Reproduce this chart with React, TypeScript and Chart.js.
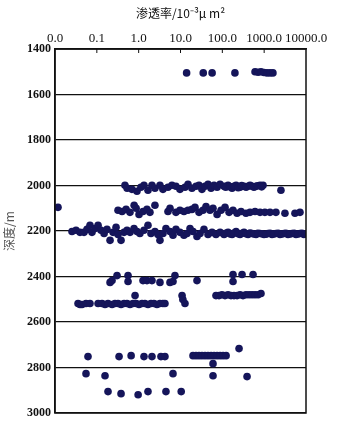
import React, { useEffect, useRef } from "react";
import { Chart, registerables } from "chart.js";

Chart.register(...registerables);

const xTickValues = [0.01, 0.1, 1, 10, 100, 1000, 10000];
const xTickLabels = ["0.0", "0.1", "1.0", "10.0", "100.0", "1000.0", "10000.0"];
const yTickValues = [1400, 1600, 1800, 2000, 2200, 2400, 2600, 2800, 3000];

const xTitle = "渗透率/10⁻³μ m²";
const yTitle = "深度/m";

const perm1500 = [14, 35, 57, 200, 605, 715, 840, 990, 1170, 1380, 1620];
const depth1500 = [1505, 1505, 1505, 1505, 1500, 1502, 1500, 1503, 1505, 1505, 1505];

const perm2000 = [0.47, 0.53, 0.69, 0.91, 1.13, 1.34, 1.67, 2.08, 2.45, 3.23, 3.81, 5.02, 6.25, 7.79, 9.7, 12.8, 15.1, 18.8, 23.5, 27.7, 32.6, 38.5, 45.5, 53.7, 63.4, 74.9, 88.3, 110, 137, 171, 213, 265, 330, 412, 513, 639, 797, 940, 2520, 120, 150, 190, 240, 290, 370, 460, 570, 700, 870];
const depth2000 = [1999, 2012, 2017, 2025, 2008, 1999, 2021, 1999, 2012, 1999, 2017, 2008, 1999, 2003, 2017, 2008, 1995, 2012, 2003, 1999, 2017, 2003, 1995, 2012, 1999, 2008, 1995, 2003, 1999, 2012, 1999, 2008, 2003, 2003, 2003, 2003, 1999, 1999, 2021, 2008, 2005, 2003, 2010, 2000, 2008, 1999, 2008, 2001, 2006];

const perm2100 = [0.0118, 0.321, 0.40, 0.50, 0.62, 0.78, 0.87, 1.02, 1.27, 1.58, 1.86, 2.45, 5.02, 5.61, 7.79, 9.7, 12.1, 15.1, 18.8, 22.2, 27.7, 34.5, 40.7, 50.8, 59.9, 74.9, 93.2, 116, 145, 180, 225, 280, 368, 459, 605, 797, 1040, 1380, 1910, 3140, 5450, 7180];
const depth2100 = [2096, 2109, 2114, 2105, 2118, 2087, 2100, 2127, 2114, 2105, 2118, 2087, 2114, 2100, 2118, 2109, 2114, 2109, 2105, 2096, 2118, 2109, 2092, 2109, 2100, 2127, 2109, 2096, 2118, 2109, 2122, 2114, 2122, 2118, 2114, 2118, 2118, 2118, 2118, 2122, 2122, 2118];

const perm2200 = [0.0255, 0.0318, 0.0396, 0.0494, 0.0582, 0.0686, 0.0766, 0.0904, 0.107, 0.126, 0.149, 0.175, 0.207, 0.244, 0.288, 0.321, 0.379, 0.447, 0.527, 0.622, 0.774, 0.913, 1.07, 1.34, 1.67, 1.97, 2.45, 2.89, 3.23, 3.81, 4.49, 5.61, 6.62, 7.79, 9.7, 12.1, 14.3, 16.9, 19.9, 24.8, 29.3, 36.4, 45.5, 56.7, 70.5, 88.3, 110, 137, 171, 213, 265, 330, 412, 513, 639, 797, 990, 1230, 1540, 1910, 2390, 2980, 3710, 4620, 5760, 7180, 8930, 120, 155, 190, 240, 300, 370, 460, 570, 710, 890, 1100, 1380, 1700, 2150, 2650, 3300, 4150, 5200, 6400, 8000, 9600];
const depth2200 = [2202, 2197, 2206, 2206, 2193, 2175, 2206, 2189, 2175, 2197, 2211, 2193, 2241, 2206, 2184, 2215, 2241, 2206, 2197, 2206, 2189, 2202, 2211, 2197, 2175, 2211, 2202, 2215, 2241, 2211, 2189, 2202, 2219, 2193, 2206, 2219, 2211, 2189, 2202, 2224, 2211, 2193, 2215, 2206, 2215, 2206, 2215, 2206, 2215, 2202, 2215, 2206, 2215, 2211, 2215, 2211, 2215, 2211, 2215, 2211, 2215, 2211, 2215, 2211, 2215, 2211, 2215, 2210, 2213, 2209, 2212, 2210, 2212, 2209, 2213, 2210, 2212, 2214, 2210, 2213, 2210, 2213, 2210, 2213, 2210, 2213, 2210, 2212];

const perm2400 = [0.207, 0.231, 0.304, 0.557, 0.557, 1.27, 1.58, 2.08, 3.23, 5.61, 6.62, 7.37, 24.8, 180, 180, 296, 542];
const depth2400 = [2426, 2418, 2396, 2396, 2422, 2418, 2418, 2418, 2426, 2426, 2422, 2396, 2418, 2391, 2422, 2391, 2391];

const perm2500 = [0.0355, 0.0396, 0.0442, 0.0551, 0.0686, 0.107, 0.133, 0.157, 0.185, 0.231, 0.272, 0.321, 0.379, 0.447, 0.527, 0.622, 0.733, 0.82, 0.87, 1.02, 1.2, 1.41, 1.67, 1.97, 2.32, 2.74, 3.23, 3.81, 4.25, 10.9, 11.4, 12.8, 70.5, 83.3, 98, 116, 137, 161, 190, 225, 265, 312, 368, 435, 513, 605, 715, 840];
const depth2500 = [2519, 2523, 2523, 2519, 2519, 2519, 2519, 2523, 2519, 2523, 2519, 2519, 2523, 2519, 2519, 2523, 2519, 2484, 2519, 2523, 2519, 2519, 2523, 2519, 2519, 2523, 2519, 2519, 2519, 2484, 2501, 2519, 2484, 2484, 2480, 2484, 2480, 2484, 2484, 2484, 2480, 2484, 2480, 2480, 2480, 2480, 2480, 2475];

const perm2750 = [0.0615, 0.34, 0.66, 1.34, 2.08, 3.41, 4.25, 19.9, 23.5, 27.7, 32.6, 38.5, 45.5, 53.7, 63.4, 74.9, 88.3, 104, 123, 59.9, 251];
const depth2750 = [2752, 2752, 2748, 2752, 2752, 2752, 2752, 2748, 2748, 2748, 2748, 2748, 2748, 2748, 2748, 2748, 2748, 2748, 2748, 2783, 2717];

const perm2850 = [0.0551, 0.157, 6.62, 59.9, 390, 0.185, 0.379, 0.97, 1.67, 4.49, 10.4];
const depth2850 = [2827, 2836, 2827, 2836, 2840, 2906, 2915, 2920, 2906, 2906, 2906];

const groups: [number[], number[]][] = [
  [perm1500, depth1500],
  [perm2000, depth2000],
  [perm2100, depth2100],
  [perm2200, depth2200],
  [perm2400, depth2400],
  [perm2500, depth2500],
  [perm2750, depth2750],
  [perm2850, depth2850],
];

const pointColor = "#15155a";

const framePlugin = {
  id: "frame",
  afterDraw(chart: any) {
    const { ctx, chartArea } = chart;
    const { left, top, right, bottom } = chartArea;
    ctx.save();
    ctx.strokeStyle = "#111";
    ctx.lineWidth = 1.5;
    ctx.strokeRect(left, top, right - left, bottom - top);
    const xs = chart.scales.x;
    ctx.lineWidth = 1;
    xTickValues.slice(1, -1).forEach((v) => {
      const px = xs.getPixelForValue(v);
      ctx.beginPath();
      ctx.moveTo(px, top);
      ctx.lineTo(px, top + 4);
      ctx.stroke();
    });
    ctx.restore();
  },
};

export default function App() {
  const ref = useRef<HTMLCanvasElement | null>(null);

  useEffect(() => {
    if (!ref.current) return;
    const datasets = groups.map(([p, d]) => ({
      data: p.map((v, i) => ({ x: v, y: d[i] })),
      backgroundColor: pointColor,
      borderColor: pointColor,
      pointRadius: 3.8,
      borderWidth: 0,
    }));
    const chart = new Chart(ref.current, {
      type: "scatter",
      data: { datasets },
      options: {
        animation: false,
        responsive: true,
        maintainAspectRatio: false,
        layout: { padding: { left: 0, top: 0, right: 31, bottom: 8 } },
        plugins: { legend: { display: false }, tooltip: { enabled: false } },
        scales: {
          x: {
            type: "logarithmic",
            position: "top",
            min: 0.01,
            max: 10000,
            afterBuildTicks: (scale: any) => {
              scale.ticks = xTickValues.map((v) => ({ value: v }));
            },
            afterFit: (scale: any) => {
              scale.height = 49;
              scale.paddingLeft = 0;
              scale.paddingRight = 0;
            },
            ticks: {
              autoSkip: false,
              maxRotation: 0,
              minRotation: 0,
              padding: 3,
              color: "#111",
              font: { family: "Liberation Serif", size: 13 },
              callback: (value: any) => {
                const i = xTickValues.indexOf(Number(value));
                return i >= 0 ? xTickLabels[i] : "";
              },
            },
            grid: { display: false, drawTicks: false },
            border: { display: true, color: "#111", width: 1.5 },
            title: {
              display: true,
              text: xTitle,
              color: "#111",
              font: { family: "Noto Sans CJK SC", size: 12 },
              padding: { top: 6, bottom: 4 },
            },
          },
          y: {
            type: "linear",
            reverse: true,
            min: 1400,
            max: 3000,
            afterBuildTicks: (scale: any) => {
              scale.ticks = yTickValues.map((v) => ({ value: v }));
            },
            afterFit: (scale: any) => {
              scale.width = 55;
              scale.paddingTop = 0;
              scale.paddingBottom = 0;
            },
            ticks: {
              autoSkip: false,
              padding: 4,
              color: "#111",
              font: { family: "Liberation Serif", size: 12, weight: "bold" },
              callback: (value: any) => String(value),
            },
            grid: { color: "#111", lineWidth: 1.2, drawTicks: false },
            border: { display: true, color: "#111", width: 1.5 },
            title: {
              display: true,
              text: yTitle,
              color: "#555",
              font: { family: "Noto Sans CJK SC", size: 12 },
              padding: { top: 2, bottom: 2 },
            },
          },
        },
      },
      plugins: [framePlugin],
    } as any);
    return () => chart.destroy();
  }, []);

  return (
    <div style={{ position: "fixed", left: 0, top: 0, width: 337, height: 421, background: "#fff" }}>
      <canvas ref={ref} />
    </div>
  );
}
